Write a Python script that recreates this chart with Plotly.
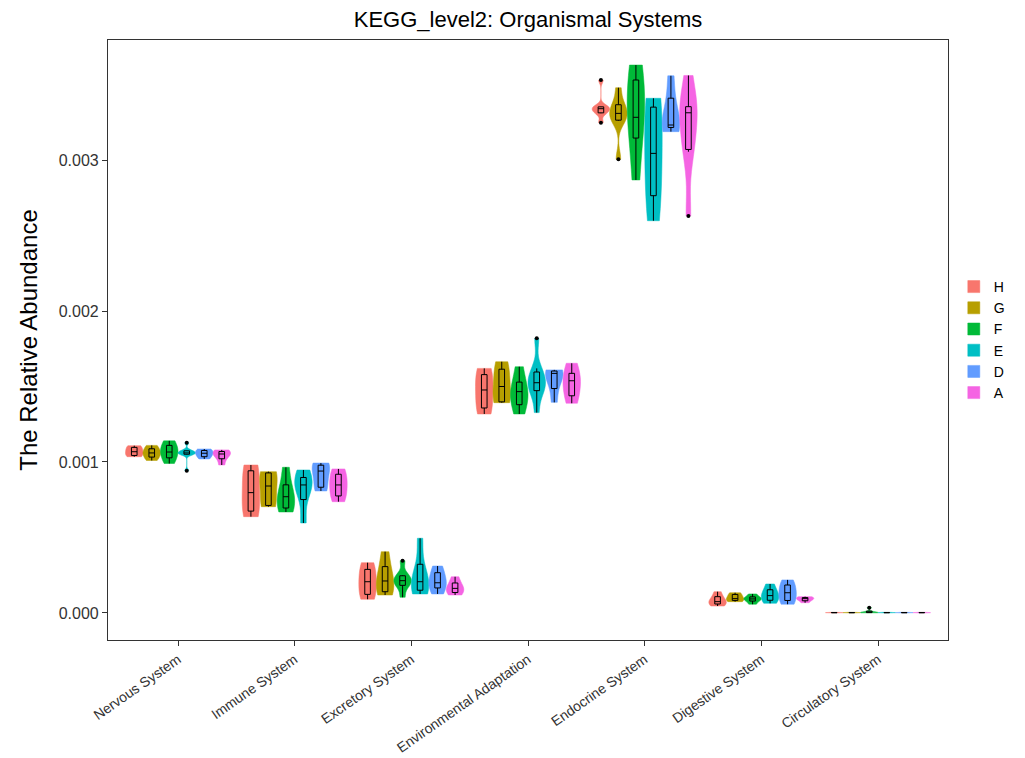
import plotly.graph_objects as go

categories = ["Nervous System", "Immune System", "Excretory System",
              "Environmental Adaptation", "Endocrine System",
              "Digestive System", "Circulatory System"]
groups = ["H", "G", "F", "E", "D", "A"]
colors = ["#F8766D", "#B79F00", "#00BA38", "#00BFC4", "#619CFF", "#F564E3"]
# values below are relative abundances expressed in units of 0.001
y_ticks = [0.0, 1.0, 2.0, 3.0]
y_tick_labels = ["0.000", "0.001", "0.002", "0.003"]

# sample values per group (x 0.001), one list per category (same order as categories)
H = [
    [1.035, 1.046, 1.068, 1.093, 1.108],
    [0.638, 0.687, 0.797, 0.929, 0.980],
    [0.091, 0.134, 0.207, 0.274, 0.333],
    [1.318, 1.371, 1.477, 1.565, 1.620],
    [3.247, 3.310, 3.320, 3.340, 3.350, 3.353, 3.530],
    [0.046, 0.064, 0.075, 0.097, 0.141],
    [0.001, 0.002, 0.002, 0.003, 0.004],
]
G = [
    [1.010, 1.040, 1.060, 1.080, 1.110],
    [0.704, 0.715, 0.841, 0.925, 0.936],
    [0.119, 0.148, 0.212, 0.274, 0.406],
    [1.393, 1.400, 1.500, 1.598, 1.664],
    [3.005, 3.260, 3.276, 3.309, 3.340, 3.375, 3.479],
    [0.075, 0.086, 0.095, 0.119, 0.134],
    [0.001, 0.002, 0.002, 0.003, 0.004],
]
F = [
    [0.990, 1.040, 1.066, 1.100, 1.140],
    [0.669, 0.704, 0.770, 0.810, 0.965],
    [0.104, 0.180, 0.192, 0.214, 0.236, 0.250, 0.346],
    [1.318, 1.400, 1.466, 1.495, 1.631],
    [2.868, 3.238, 3.283, 3.497, 3.629],
    [0.058, 0.086, 0.093, 0.100, 0.126],
    [0.001, 0.003, 0.004, 0.005, 0.035],
]
E = [
    [0.942, 1.050, 1.053, 1.060, 1.060, 1.073, 1.075, 1.128],
    [0.596, 0.803, 0.848, 0.881, 0.947],
    [0.126, 0.159, 0.207, 0.265, 0.495],
    [1.327, 1.450, 1.495, 1.500, 1.550, 1.572, 1.620, 1.819],
    [2.598, 2.819, 3.044, 3.331, 3.409],
    [0.064, 0.091, 0.115, 0.141, 0.192],
    [0.001, 0.002, 0.002, 0.003, 0.004],
]
D = [
    [1.020, 1.040, 1.058, 1.073, 1.086],
    [0.808, 0.841, 0.940, 0.974, 0.993],
    [0.126, 0.179, 0.200, 0.252, 0.311],
    [1.395, 1.517, 1.587, 1.600, 1.610],
    [3.188, 3.225, 3.232, 3.360, 3.558],
    [0.058, 0.091, 0.134, 0.174, 0.219],
    [0.001, 0.002, 0.002, 0.003, 0.004],
]
A = [
    [0.980, 1.035, 1.053, 1.066, 1.080],
    [0.737, 0.788, 0.848, 0.907, 0.954],
    [0.119, 0.141, 0.163, 0.185, 0.240],
    [1.389, 1.455, 1.538, 1.565, 1.654],
    [2.629, 3.055, 3.115, 3.313, 3.340, 3.358, 3.560],
    [0.068, 0.085, 0.095, 0.100, 0.108],
    [0.001, 0.002, 0.002, 0.003, 0.004],
]
group_data = [H, G, F, E, D, A]

fig = go.Figure()
for name, color, data in zip(groups, colors, group_data):
    for ci, (cat, vals) in enumerate(zip(categories, data)):
        fig.add_trace(go.Violin(
            x=[cat] * len(vals), y=vals, name=name, legendgroup=name,
            showlegend=(ci == 0),
            offsetgroup=name, alignmentgroup="all",
            scalegroup=f"{name}-{ci}",
            fillcolor=color,
            line=dict(color=color, width=0.5),
            spanmode="hard", scalemode="width",
            points="outliers", pointpos=0, jitter=0,
            marker=dict(color="black", size=4, line=dict(width=0)),
            box=dict(visible=True, width=0.32, fillcolor="rgba(0,0,0,0)",
                     line=dict(color="black", width=1)),
            meanline=dict(visible=False),
        ))

# the page places the figure 8px from the top-left corner, so the figure is
# sized 8px smaller to keep the plot panel where the reference has it
fig.update_layout(
    width=1017, height=750,
    paper_bgcolor="white", plot_bgcolor="white",
    margin=dict(l=100, r=77, t=32, b=118),
    violinmode="group", violingap=0.1, violingroupgap=0,
    font=dict(family="Liberation Sans, Arial, sans-serif", color="black"),
    title=dict(text="KEGG_level2: Organismal Systems", x=0.5, xref="paper",
               xanchor="center", yref="container", y=0.995, yanchor="top",
               pad=dict(t=0, b=0),
               font=dict(size=22, color="black")),
    showlegend=True,
    legend=dict(xref="container", x=0.93, xanchor="left",
                yref="paper", y=0.5, yanchor="middle",
                font=dict(size=14, color="black"), tracegroupgap=0,
                bgcolor="rgba(0,0,0,0)", itemwidth=30, borderwidth=0),
)
fig.update_xaxes(
    type="category", categoryorder="array", categoryarray=categories,
    range=[-0.6, 6.6], showline=True, mirror=True, linecolor="#333333",
    linewidth=1.2, ticks="outside", ticklen=5, tickcolor="#333333",
    tickangle=-35, tickfont=dict(size=14, color="#333333"),
    showgrid=False, zeroline=False, automargin=False,
)
fig.update_yaxes(
    range=[-0.179, 3.795], tickvals=y_ticks, ticktext=y_tick_labels,
    showline=True, mirror=True, linecolor="#333333", linewidth=1.2,
    ticks="outside", ticklen=5, tickcolor="#333333",
    tickfont=dict(size=16, color="#333333"),
    showgrid=False, zeroline=False, automargin=False,
    title=dict(text="The Relative Abundance", font=dict(size=24, color="black"),
               standoff=14),
)

fig.write_html("out.html")
